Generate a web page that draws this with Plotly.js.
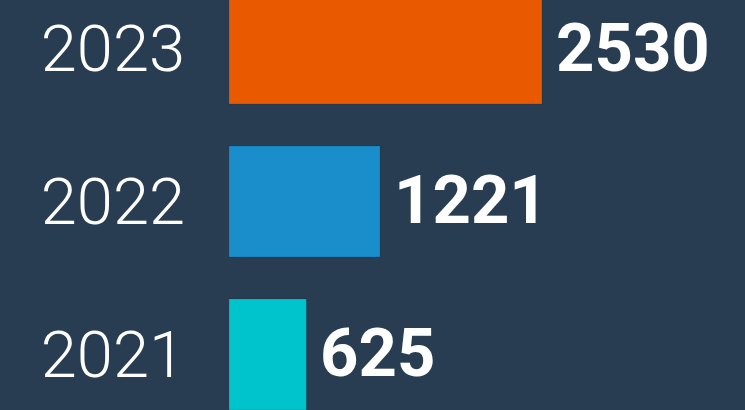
<!DOCTYPE html>
<html><head><meta charset="utf-8">
<script src="https://cdn.plot.ly/plotly-3.0.1.min.js"></script>
<style>html,body{margin:0;padding:0;background:#283d52;}#chart{width:745px;height:410px;}</style>
</head><body><div id="chart"></div>
<script>
const years = ['2021', '2022', '2023'];
const values = [625, 1221, 2530];
const colors = ['#00c4cc', '#1a8dcb', '#e95a00'];

const trace = {
  type: 'bar', orientation: 'h',
  y: years, x: values,
  width: 0.725,
  marker: {color: colors, line: {width: 1, color: 'rgba(0,0,0,0.12)'}},
  hoverinfo: 'none'
};

const annotations = years.map((y, i) => ({
  x: values[i], y: i, xref: 'x', yref: 'y',
  text: '<b>' + values[i] + '</b>', showarrow: false,
  xanchor: 'left', yanchor: 'middle', xshift: 12, yshift: 1,
  font: {family: 'Roboto, Arial, sans-serif', size: 67, color: '#ffffff'}
}));

const layout = {
  width: 745, height: 410,
  margin: {l: 229, r: 0, t: 0, b: 0},
  paper_bgcolor: '#283d52', plot_bgcolor: '#283d52',
  showlegend: false,
  xaxis: {range: [0, 4171], visible: false, fixedrange: true},
  yaxis: {
    type: 'category', range: [-0.363, 2.317],
    showgrid: false, zeroline: false, showline: false, ticks: '',
    ticklabelstandoff: 43,
    tickfont: {family: 'Roboto, Arial, sans-serif', size: 65, color: '#ffffff', weight: 300}
  },
  annotations: annotations
};

Plotly.newPlot('chart', [trace], layout, {staticPlot: true, displayModeBar: false});
</script></body></html>
